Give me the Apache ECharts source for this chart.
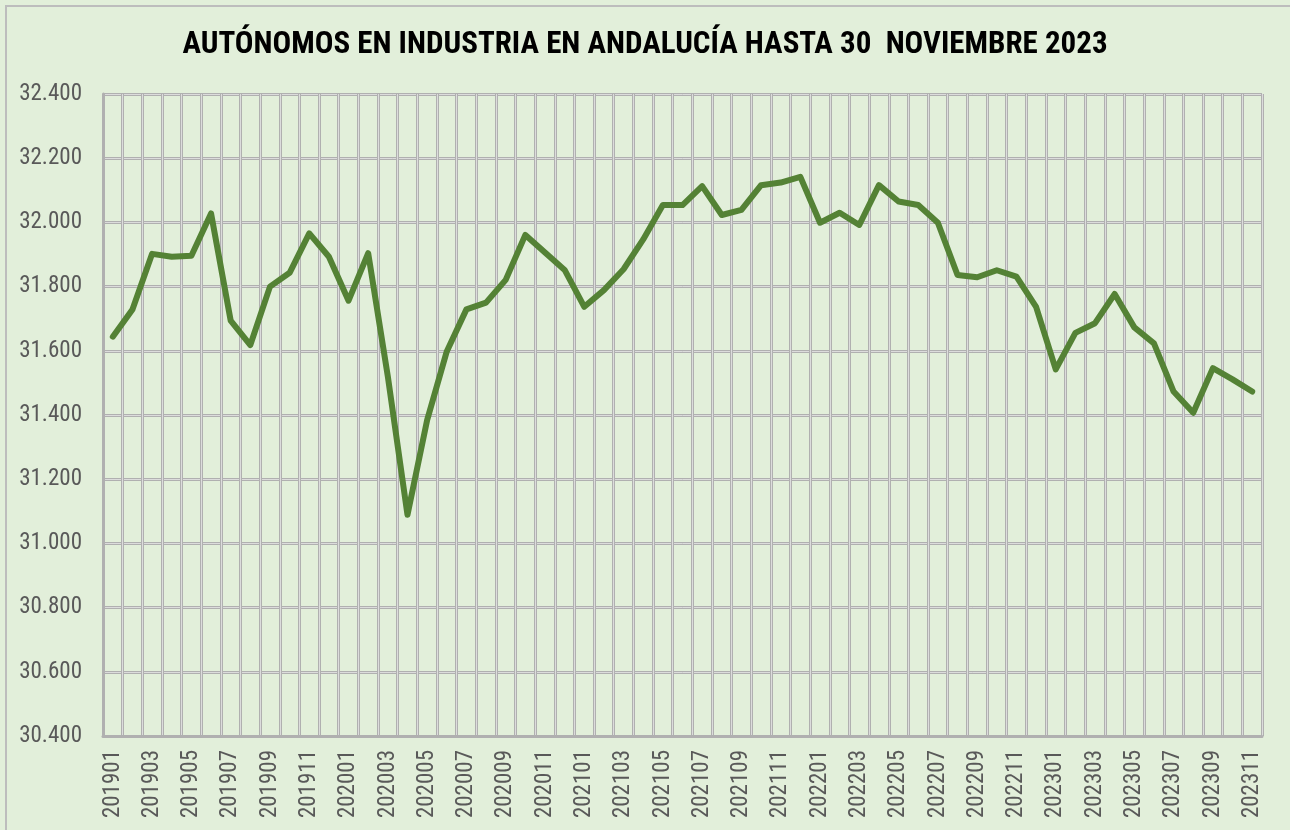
<!DOCTYPE html>
<html>
<head>
<meta charset="utf-8">
<title>Autónomos en industria</title>
<script src="https://cdn.jsdelivr.net/npm/echarts@6/dist/echarts.min.js"></script>
<style>
  html, body { margin: 0; padding: 0; background: #e2efda; }
  #frame {
    position: absolute; left: 5px; top: 5px; width: 1300px; height: 840px;
    border-left: 2px solid #bdbdbd; border-top: 2px solid #bdbdbd;
  }
  #chart { position: absolute; left: 0; top: 0; width: 1290px; height: 830px; }
</style>
</head>
<body>
<div id="frame"></div>
<div id="chart"></div>
<script>
  // meses (AAAAMM)
  const months = [
    '201901','201902','201903','201904','201905','201906','201907','201908','201909','201910','201911','201912',
    '202001','202002','202003','202004','202005','202006','202007','202008','202009','202010','202011','202012',
    '202101','202102','202103','202104','202105','202106','202107','202108','202109','202110','202111','202112',
    '202201','202202','202203','202204','202205','202206','202207','202208','202209','202210','202211','202212',
    '202301','202302','202303','202304','202305','202306','202307','202308','202309','202310','202311'
  ];
  // autónomos en industria
  const autonomos = [
    31644, 31729, 31902, 31893, 31896, 32028, 31694, 31618, 31800, 31843, 31966, 31893,
    31756, 31904, 31520, 31089, 31384, 31598, 31729, 31750, 31821, 31961, 31906, 31852,
    31737, 31789, 31854, 31947, 32054, 32054, 32113, 32023, 32039, 32116, 32124, 32142,
    31999, 32030, 31992, 32116, 32065, 32054, 31999, 31836, 31829, 31851, 31831, 31737,
    31542, 31656, 31686, 31777, 31673, 31623, 31473, 31407, 31546, 31511, 31473
  ];
  const yMin = 30400, yMax = 32400, yStep = 200;

  const fontNarrow = "'Liberation Sans Narrow', 'Arial Narrow', 'Roboto Condensed', sans-serif";
  const fmt = v => String(v).replace(/\B(?=(\d{3})+(?!\d))/g, '.');

  let chart = echarts.init(document.getElementById('chart'));
  let option = {
    backgroundColor: 'transparent',
    animation: false,
    title: {
      text: 'AUTÓNOMOS EN INDUSTRIA EN ANDALUCÍA HASTA 30  NOVIEMBRE 2023',
      left: 'center',
      top: 25,
      textStyle: { fontFamily: fontNarrow, fontSize: 31, fontWeight: 'bold', color: '#000' }
    },
    grid: { left: 103, right: 28, top: 94, bottom: 94 },
    xAxis: [
      {
        type: 'category',
        data: months,
        boundaryGap: true,
        axisLine: { show: true, lineStyle: { color: '#b0b0b0', width: 3 } },
        axisTick: { show: false },
        axisLabel: {
          interval: 1, rotate: 90, margin: 14,
          fontFamily: fontNarrow, fontSize: 23, color: '#595959'
        },
        splitLine: { show: true, interval: 0, lineStyle: { color: '#b0b0b0', width: 3 } }
      },
      {
        type: 'category',
        data: months,
        position: 'top',
        boundaryGap: true,
        axisLine: { show: false },
        axisTick: { show: false },
        axisLabel: { show: false },
        splitLine: { show: true, interval: 0, lineStyle: { color: '#dcdcdc', width: 1 } }
      }
    ],
    yAxis: [
      {
        type: 'value',
        min: yMin, max: yMax, interval: yStep,
        axisLine: { show: true, lineStyle: { color: '#b0b0b0', width: 3 } },
        axisTick: { show: false },
        axisLabel: {
          margin: 21, formatter: fmt,
          fontFamily: fontNarrow, fontSize: 23, color: '#595959'
        },
        splitLine: { show: true, lineStyle: { color: '#b0b0b0', width: 3 } }
      },
      {
        type: 'value',
        position: 'right',
        min: yMin, max: yMax, interval: yStep,
        axisLine: { show: false },
        axisTick: { show: false },
        axisLabel: { show: false },
        splitLine: { show: true, lineStyle: { color: '#dcdcdc', width: 1 } }
      }
    ],
    series: [
      {
        name: 'Autónomos',
        type: 'line',
        data: autonomos,
        xAxisIndex: 0,
        yAxisIndex: 0,
        showSymbol: false,
        symbol: 'none',
        lineStyle: { color: '#548235', width: 6, join: 'round', cap: 'round' },
        z: 5
      }
    ]
  };
  chart.setOption(option);
</script>
</body>
</html>
